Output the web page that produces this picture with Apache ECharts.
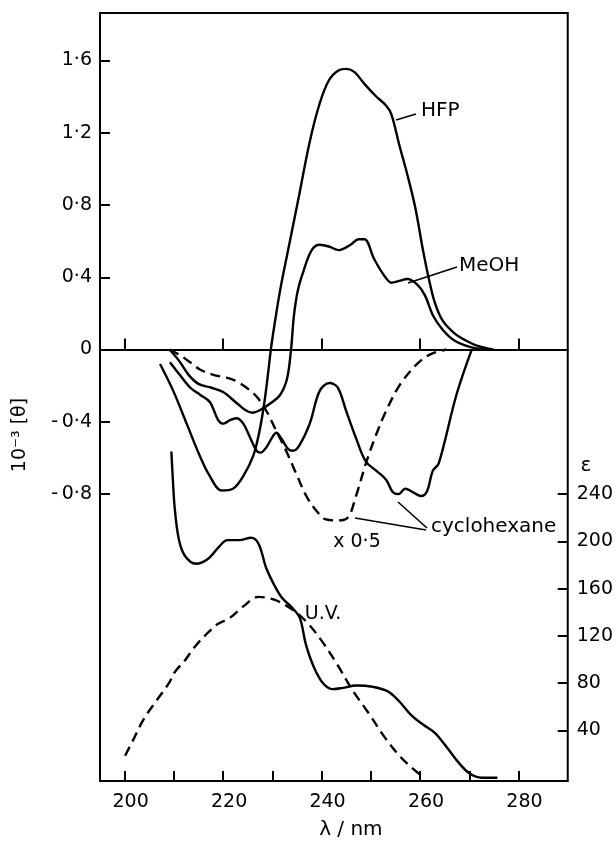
<!DOCTYPE html>
<html>
<head>
<meta charset="utf-8">
<script src="https://cdn.jsdelivr.net/npm/echarts@6/dist/echarts.min.js"></script>
<style>
  html, body { margin: 0; background: #fff; }
  #chart { width: 616px; height: 845px; }
</style>
</head>
<body>
<div id="chart"></div>
<script>
// CD spectra (left axis, 10^-3 [theta]) and UV (right axis, epsilon)
const hfpNm = [207.2, 209.9, 212.6, 215.3, 217.3, 219.7, 222.0, 224.1, 226.1, 227.4, 228.4, 229.1, 229.7, 230.4, 231.6, 233.2, 235.2, 237.6, 239.6, 241.5, 243.5, 245.1, 246.7, 248.7, 251.1, 253.1, 254.2, 255.8, 257.4, 259.0, 260.6, 261.8, 263.0, 264.6, 267.0, 269.3, 271.7, 274.9];
const hfpTheta = [-0.08, -0.23, -0.41, -0.59, -0.70, -0.78, -0.77, -0.70, -0.59, -0.45, -0.29, -0.14, 0, 0.13, 0.33, 0.55, 0.82, 1.15, 1.36, 1.49, 1.545, 1.553, 1.535, 1.47, 1.40, 1.35, 1.30, 1.13, 0.97, 0.79, 0.55, 0.39, 0.26, 0.16, 0.09, 0.05, 0.02, 0.0];

const meohNm = [209.1, 211.0, 213.0, 215.0, 217.5, 220.0, 222.5, 224.5, 226.0, 227.5, 229.5, 231.6, 233.0, 233.8, 234.4, 235.2, 236.4, 238.0, 239.6, 241.5, 243.5, 245.9, 247.5, 248.7, 250.7, 252.7, 254.2, 255.8, 257.4, 259.4, 261.0, 262.6, 264.6, 267.0, 270.1, 273.3];
const meohTheta = [0, -0.06, -0.14, -0.19, -0.21, -0.235, -0.29, -0.335, -0.35, -0.335, -0.30, -0.25, -0.16, 0, 0.19, 0.33, 0.44, 0.55, 0.58, 0.57, 0.55, 0.58, 0.61, 0.61, 0.50, 0.41, 0.37, 0.38, 0.39, 0.36, 0.30, 0.19, 0.11, 0.05, 0.015, 0.0];

const cyhexNm = [209.2, 211.2, 213.3, 215.3, 217.3, 219.0, 220.1, 221.4, 222.7, 224.1, 225.7, 226.8, 227.6, 228.8, 230.1, 230.8, 231.8, 233.2, 234.2, 235.5, 237.6, 239.6, 241.6, 243.3, 245.0, 247.0, 249.0, 251.1, 253.1, 254.5, 255.6, 257.0, 258.6, 260.2, 261.4, 262.6, 263.8, 267.4, 270.5];
const cyhexTheta = [-0.07, -0.14, -0.21, -0.25, -0.29, -0.39, -0.41, -0.39, -0.38, -0.41, -0.50, -0.56, -0.57, -0.54, -0.48, -0.46, -0.49, -0.55, -0.56, -0.53, -0.41, -0.23, -0.185, -0.21, -0.34, -0.49, -0.62, -0.67, -0.72, -0.79, -0.80, -0.77, -0.79, -0.81, -0.785, -0.67, -0.63, -0.25, 0];

// cyclohexane x 0.5 (dashed)
const cyhexHalfNm = [209.1, 211.2, 213.3, 215.3, 218.0, 220.7, 222.7, 224.7, 226.8, 228.8, 230.8, 232.8, 234.9, 236.9, 238.9, 240.9, 243.1, 245.3, 247.0, 249.0, 251.1, 253.1, 255.8, 259.2, 262.2, 265.4];
const cyhexHalfTheta = [0, -0.03, -0.07, -0.11, -0.14, -0.155, -0.175, -0.21, -0.26, -0.34, -0.45, -0.56, -0.69, -0.81, -0.89, -0.94, -0.945, -0.93, -0.81, -0.63, -0.47, -0.34, -0.20, -0.085, -0.025, 0];

// U.V. curves (right axis)
const uvSolidNm = [209.5, 209.8, 210.2, 211.0, 212.2, 214.5, 216.9, 219.3, 220.9, 223.3, 225.7, 227.2, 228.8, 230.4, 232.0, 234.0, 235.6, 236.8, 238.4, 240.3, 242.3, 244.3, 247.1, 250.3, 253.5, 255.8, 258.2, 260.6, 263.0, 265.4, 267.8, 270.1, 272.5, 275.7];
const uvSolidEps = [276, 252, 227, 202, 188, 181, 185, 196, 201, 201, 203, 198, 177, 163, 152, 144, 135, 113, 94, 80, 75, 76, 78, 77, 73, 64.5, 53, 45, 38, 26, 13, 3.5, 0, 0];

const uvDashNm = [200.1, 201.8, 203.8, 206.6, 209.0, 210.2, 212.2, 214.1, 216.5, 218.9, 221.3, 224.1, 227.2, 230.4, 233.6, 236.8, 240.0, 243.1, 246.3, 249.5, 252.7, 255.8, 258.2, 260.2];
const uvDashEps = [18.6, 32.5, 49, 66, 80, 89.5, 99, 110, 121, 130, 135, 145, 153, 150.6, 143.6, 132.5, 116, 96.4, 74, 55, 35, 18.6, 9, 2];

// ticks / labels
const nmTicks = [200, 210, 220, 230, 240, 250, 260, 270, 280];
const nmLabels = [200, 220, 240, 260, 280];
const thetaTicks = [-0.8, -0.4, 0, 0.4, 0.8, 1.2, 1.6];
const epsTicks = [40, 80, 120, 160, 200, 240];

const FONT = 'DejaVu Sans';
const zip = (xs, ys) => xs.map((x, i) => [x, ys[i]]);
const fmtTheta = v => v === 0 ? '0' : (v < 0 ? '-\u2009' : '') + Math.abs(v).toFixed(1).replace('.', '·');

const chart = echarts.init(document.getElementById('chart'));

const lineSeries = (name, data, yIdx, dashed) => ({
  name: name,
  type: 'line',
  xAxisIndex: 0,
  yAxisIndex: yIdx,
  data: data,
  showSymbol: false,
  smooth: 0.35,
  silent: true,
  lineStyle: { color: '#000', width: 2.4, type: dashed ? [10, 6] : 'solid' },
});

const option = {
  animation: false,
  backgroundColor: '#fff',
  grid: {
    left: 100, right: 47, top: 13, bottom: 53,
    show: true, borderColor: '#000', borderWidth: 2,
  },
  xAxis: [
    {
      type: 'value', min: 195, max: 290, position: 'bottom',
      axisLine: { show: false, onZero: false },
      axisTick: { inside: true, length: 10, lineStyle: { color: '#000', width: 2 }, customValues: nmTicks },
      axisLabel: { customValues: nmLabels, color: '#000', fontFamily: FONT, fontSize: 19, margin: 12, padding: [0, 0, 0, 12] },
      splitLine: { show: false },
      name: 'λ / nm', nameLocation: 'middle', nameGap: 39,
      nameTextStyle: { color: '#000', fontFamily: FONT, fontSize: 20, padding: [0, 0, 0, 34] },
    },
    {
      // the zero line with its upward ticks
      type: 'value', min: 195, max: 290, position: 'top',
      axisLine: { show: true, onZero: true, onZeroAxisIndex: 0, lineStyle: { color: '#000', width: 2 } },
      axisTick: { inside: false, length: 11, lineStyle: { color: '#000', width: 2 }, customValues: nmLabels },
      axisLabel: { show: false },
      splitLine: { show: false },
    },
  ],
  yAxis: [
    {
      type: 'value', min: -2.387, max: 1.862, position: 'left',
      axisLine: { show: false },
      axisTick: { inside: true, length: 10, lineStyle: { color: '#000', width: 2 }, customValues: thetaTicks },
      axisLabel: { customValues: thetaTicks, formatter: fmtTheta, color: '#000', fontFamily: FONT, fontSize: 19, margin: 8 },
      splitLine: { show: false },
    },
    {
      type: 'value', min: -2.75, max: 647, position: 'right',
      axisLine: { show: false },
      axisTick: { inside: true, length: 10, lineStyle: { color: '#000', width: 2 }, customValues: epsTicks },
      axisLabel: { customValues: epsTicks, color: '#000', fontFamily: FONT, fontSize: 19, margin: 9 },
      splitLine: { show: false },
    },
  ],
  series: [
    lineSeries('HFP', zip(hfpNm, hfpTheta), 0, false),
    lineSeries('MeOH', zip(meohNm, meohTheta), 0, false),
    lineSeries('cyclohexane', zip(cyhexNm, cyhexTheta), 0, false),
    lineSeries('cyclohexane x 0.5', zip(cyhexHalfNm, cyhexHalfTheta), 0, true),
    lineSeries('U.V. solid', zip(uvSolidNm, uvSolidEps), 1, false),
    lineSeries('U.V. dashed', zip(uvDashNm, uvDashEps), 1, true),
  ],
  graphic: [
    // axis titles
    { type: 'text', x: 20, y: 435, rotation: Math.PI / 2,
      style: { text: '10⁻³ [θ]', font: '19px "DejaVu Sans"', fill: '#000', align: 'center', verticalAlign: 'middle' } },
    { type: 'text', x: 586, y: 466,
      style: { text: 'ε', font: '20px "DejaVu Sans"', fill: '#000', align: 'center', verticalAlign: 'middle' } },
    // annotations
    { type: 'text', x: 421, y: 111,
      style: { text: 'HFP', font: '20px "DejaVu Sans"', fill: '#000', verticalAlign: 'middle' } },
    { type: 'line', shape: { x1: 396, y1: 120, x2: 416, y2: 114 }, style: { stroke: '#000', lineWidth: 1.6 } },
    { type: 'text', x: 459, y: 266,
      style: { text: 'MeOH', font: '20px "DejaVu Sans"', fill: '#000', verticalAlign: 'middle' } },
    { type: 'line', shape: { x1: 408, y1: 283, x2: 457, y2: 267 }, style: { stroke: '#000', lineWidth: 1.6 } },
    { type: 'text', x: 431, y: 527,
      style: { text: 'cyclohexane', font: '20px "DejaVu Sans"', fill: '#000', verticalAlign: 'middle' } },
    { type: 'line', shape: { x1: 427, y1: 528, x2: 398, y2: 502 }, style: { stroke: '#000', lineWidth: 1.6 } },
    { type: 'line', shape: { x1: 426, y1: 530, x2: 355, y2: 518 }, style: { stroke: '#000', lineWidth: 1.6 } },
    { type: 'text', x: 357, y: 542,
      style: { text: 'x 0·5', font: '19px "DejaVu Sans"', fill: '#000', align: 'center', verticalAlign: 'middle' } },
    { type: 'text', x: 323, y: 614,
      style: { text: 'U.V.', font: '19px "DejaVu Sans"', fill: '#000', align: 'center', verticalAlign: 'middle' } },
  ],
};

chart.setOption(option);
</script>
</body>
</html>
